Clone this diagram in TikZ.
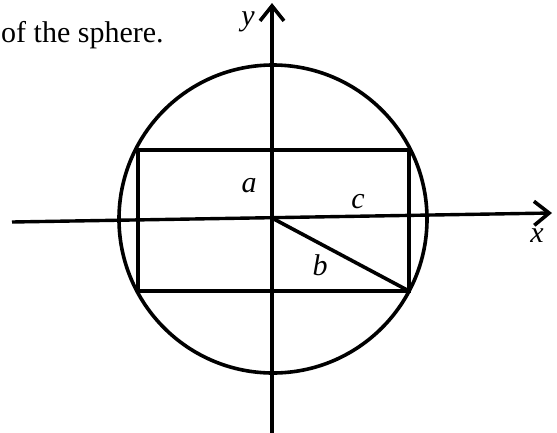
\documentclass[tikz,border=0pt]{standalone}
\usepackage{fontspec}
\setmainfont{Liberation Serif}
\usetikzlibrary{arrows.meta}
\begin{document}
\begin{tikzpicture}[x=1pt,y=-1pt,
  geom/.style={line width=3.6pt},
  axis/.style={line width=3.4pt, -{Straight Barb[length=15pt,width=24pt,line width=3.6pt]}},
  lbl/.style={font=\fontsize{30}{36}\selectfont\itshape, inner sep=0pt},
  txt/.style={font=\fontsize{30}{36}\selectfont, inner sep=0pt}]
\useasboundingbox (0,0) rectangle (557,432);
% coordinates
\coordinate (O) at (272,218);
\coordinate (C) at (273,219);
\coordinate (xs) at (12,222);
\coordinate (xe) at (552,213);
\coordinate (ys) at (272,436);
\coordinate (ye) at (272,3);
\coordinate (R1) at (138,150);
\coordinate (R2) at (409,291);
% circle
\draw[geom] (C) circle[radius=154];
% rectangle
\draw[geom] (R1) rectangle (R2);
% diagonal
\draw[geom] (O) -- (R2);
% axes
\draw[axis] (xs) -- (xe);
\draw[axis] (ys) -- (ye);
% labels
\node[lbl] (la) at (249,186) {a};
\node[lbl] (lc) at (358,202) {c};
\node[lbl] (lb) at (320,265) {b};
\node[lbl] (lx) at (537,236) {x};
\node[lbl] (ly) at (248,22) {y};
\node[txt, anchor=base west] (t) at (1,42) {of the sphere.};
\end{tikzpicture}
\end{document}
